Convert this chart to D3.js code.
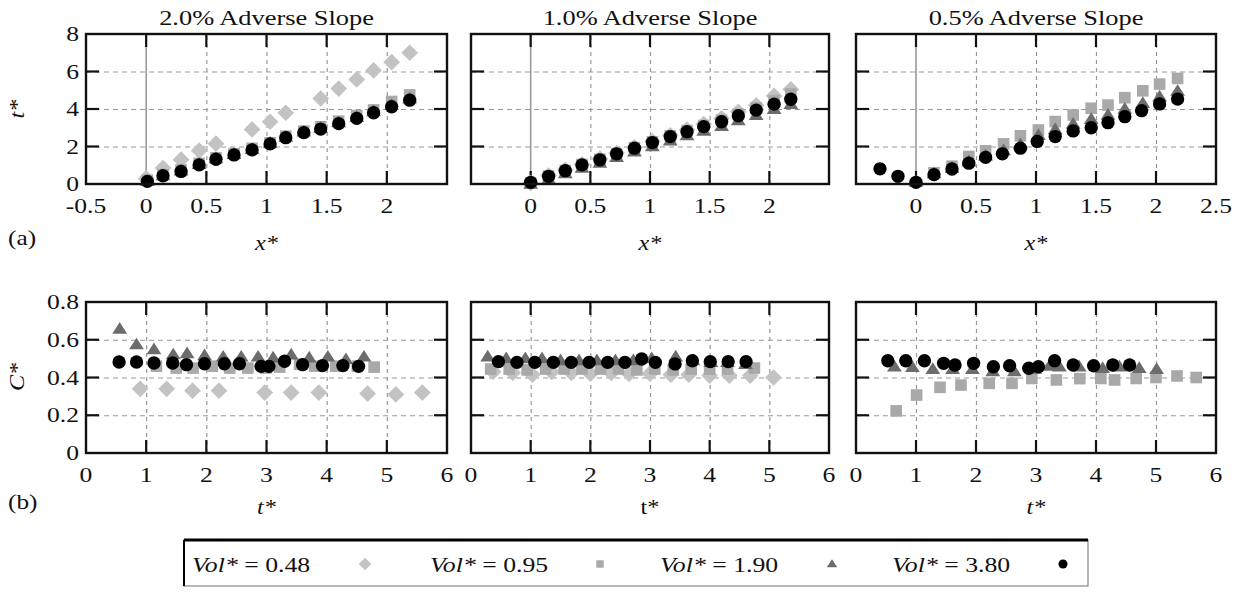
<!DOCTYPE html>
<html><head><meta charset="utf-8">
<script src="https://cdn.jsdelivr.net/npm/d3@7"></script>
<style>html,body{margin:0;padding:0;background:#fff;} svg{display:block;}</style>
</head><body>
<svg id="chart" width="1249" height="596"></svg>
<script>
// ---------------- DATA ----------------
const titles = ["2.0% Adverse Slope", "1.0% Adverse Slope", "0.5% Adverse Slope"];
const seriesNames = ["Vol* = 0.48", "Vol* = 0.95", "Vol* = 1.90", "Vol* = 3.80"];
const xTopTicks = [-0.5, 0, 0.5, 1, 1.5, 2, 2.5];
const yTopTicks = [0, 2, 4, 6, 8];
const xBotTicks = [0, 1, 2, 3, 4, 5, 6];
const yBotTicks = [0, 0.2, 0.4, 0.6, 0.8];
const xTopLabelTicks = [[-0.5, 0, 0.5, 1, 1.5, 2], [0, 0.5, 1, 1.5, 2], [0, 0.5, 1, 1.5, 2, 2.5]];

// (a) t* vs x*  --- 2.0% slope
const a20_d_x = [0.0, 0.14, 0.29, 0.44, 0.58, 0.88, 1.03, 1.16, 1.45, 1.60, 1.75, 1.89, 2.04, 2.19];
const a20_d_y = [0.3, 0.85, 1.3, 1.78, 2.15, 2.91, 3.32, 3.8, 4.56, 5.09, 5.58, 6.06, 6.5, 7.0];
const a20_x   = [0.01, 0.14, 0.29, 0.44, 0.58, 0.73, 0.88, 1.03, 1.16, 1.31, 1.45, 1.60, 1.75, 1.89, 2.04, 2.19];
const a20_s_y = [0.2, 0.5, 0.75, 1.1, 1.4, 1.62, 1.9, 2.2, 2.55, 2.82, 3.05, 3.35, 3.65, 3.95, 4.4, 4.75];
const a20_t_y = [0.15, 0.45, 0.7, 1.05, 1.35, 1.58, 1.85, 2.18, 2.5, 2.78, 2.98, 3.28, 3.56, 3.86, 4.2, 4.55];
const a20_c_y = [0.14, 0.44, 0.67, 1.02, 1.32, 1.55, 1.82, 2.14, 2.47, 2.74, 2.93, 3.22, 3.50, 3.80, 4.12, 4.47];
// 1.0% slope
const a10_x   = [0.0, 0.15, 0.29, 0.43, 0.58, 0.72, 0.87, 1.02, 1.17, 1.31, 1.45, 1.60, 1.74, 1.89, 2.04, 2.18];
const a10_d_y = [0.05, 0.45, 0.75, 1.05, 1.35, 1.65, 1.95, 2.28, 2.6, 2.9, 3.2, 3.5, 3.85, 4.2, 4.7, 5.05];
const a10_s_y = [0.05, 0.43, 0.72, 1.04, 1.32, 1.63, 1.94, 2.25, 2.57, 2.85, 3.12, 3.4, 3.72, 4.05, 4.45, 4.8];
const a10_t_y = [0.0, 0.25, 0.55, 0.85, 1.12, 1.42, 1.72, 2.0, 2.3, 2.58, 2.82, 3.08, 3.38, 3.66, 3.98, 4.25];
const a10_c_y = [0.09, 0.41, 0.71, 1.02, 1.29, 1.61, 1.91, 2.21, 2.53, 2.79, 3.06, 3.32, 3.64, 3.94, 4.26, 4.52];
// 0.5% slope
const a05_s_x = [0.15, 0.30, 0.44, 0.58, 0.73, 0.87, 1.02, 1.16, 1.31, 1.46, 1.60, 1.74, 1.89, 2.03, 2.18];
const a05_s_y = [0.6, 0.95, 1.47, 1.77, 2.14, 2.57, 2.88, 3.33, 3.68, 4.04, 4.21, 4.6, 4.97, 5.33, 5.63];
const a05_t_x = [0.0, 0.15, 0.30, 0.44, 0.58, 0.73, 0.87, 1.02, 1.16, 1.31, 1.46, 1.60, 1.74, 1.89, 2.03, 2.18];
const a05_t_y = [0.1, 0.55, 0.85, 1.2, 1.5, 1.78, 2.1, 2.6, 2.9, 3.2, 3.45, 3.68, 4.0, 4.3, 4.65, 4.95];
const a05_c_x = [-0.30, -0.15, 0.0, 0.15, 0.30, 0.44, 0.58, 0.72, 0.87, 1.01, 1.16, 1.31, 1.46, 1.60, 1.74, 1.88, 2.03, 2.18];
const a05_c_y = [0.81, 0.41, 0.09, 0.5, 0.8, 1.11, 1.42, 1.61, 1.91, 2.27, 2.53, 2.83, 3.0, 3.27, 3.59, 3.91, 4.27, 4.53];

// (b) C* vs t*  --- 2.0% slope
const b20_d_t = [0.90, 1.34, 1.77, 2.21, 2.97, 3.41, 3.87, 4.68, 5.15, 5.59];
const b20_d_c = [0.34, 0.34, 0.33, 0.33, 0.32, 0.32, 0.32, 0.315, 0.31, 0.32];
const b20_s_t = [1.17, 1.50, 1.78, 2.10, 2.39, 2.69, 2.99, 3.22, 3.55, 3.80, 4.15, 4.51, 4.79];
const b20_s_c = [0.46, 0.45, 0.45, 0.46, 0.45, 0.45, 0.45, 0.455, 0.47, 0.46, 0.46, 0.46, 0.455];
const b20_t_t = [0.56, 0.84, 1.13, 1.45, 1.68, 1.97, 2.28, 2.58, 2.86, 3.11, 3.41, 3.71, 4.02, 4.32, 4.62];
const b20_t_c = [0.657, 0.574, 0.548, 0.521, 0.527, 0.516, 0.509, 0.509, 0.509, 0.504, 0.52, 0.504, 0.509, 0.495, 0.509];
const b20_c_t = [0.55, 0.84, 1.13, 1.44, 1.67, 1.97, 2.30, 2.55, 2.91, 3.04, 3.30, 3.60, 3.93, 4.27, 4.53];
const b20_c_c = [0.482, 0.482, 0.477, 0.477, 0.468, 0.473, 0.473, 0.473, 0.459, 0.459, 0.486, 0.468, 0.463, 0.463, 0.459];
// 1.0% slope
const b10_d_t = [0.37, 0.70, 1.03, 1.35, 1.68, 2.00, 2.35, 2.65, 3.00, 3.35, 3.65, 4.00, 4.33, 4.68, 5.07];
const b10_d_c = [0.43, 0.425, 0.415, 0.43, 0.425, 0.42, 0.425, 0.42, 0.42, 0.415, 0.415, 0.41, 0.41, 0.41, 0.4];
const b10_s_t = [0.33, 0.64, 0.94, 1.25, 1.56, 1.86, 2.17, 2.47, 2.78, 3.08, 3.39, 3.69, 4.00, 4.30, 4.75];
const b10_s_c = [0.445, 0.445, 0.44, 0.445, 0.445, 0.445, 0.445, 0.445, 0.44, 0.445, 0.44, 0.445, 0.445, 0.445, 0.45];
const b10_t_t = [0.28, 0.59, 0.91, 1.19, 1.50, 1.81, 2.11, 2.42, 2.72, 3.03, 3.43, 3.72, 4.02, 4.30, 4.60];
const b10_t_c = [0.51, 0.5, 0.5, 0.5, 0.49, 0.49, 0.49, 0.49, 0.49, 0.5, 0.51, 0.49, 0.48, 0.48, 0.47];
const b10_c_t = [0.46, 0.77, 1.07, 1.38, 1.68, 1.98, 2.29, 2.58, 2.86, 3.09, 3.42, 3.71, 4.01, 4.31, 4.61];
const b10_c_c = [0.484, 0.48, 0.48, 0.48, 0.48, 0.48, 0.48, 0.48, 0.498, 0.48, 0.472, 0.489, 0.484, 0.484, 0.484];
// 0.5% slope
const b05_s_t = [0.67, 1.01, 1.40, 1.75, 2.22, 2.60, 2.93, 3.34, 3.73, 4.08, 4.31, 4.67, 5.00, 5.35, 5.67];
const b05_s_c = [0.223, 0.307, 0.348, 0.36, 0.369, 0.369, 0.395, 0.387, 0.394, 0.395, 0.387, 0.395, 0.4, 0.408, 0.4];
const b05_t_t = [0.64, 0.94, 1.28, 1.61, 1.94, 2.28, 2.64, 2.98, 3.22, 3.39, 3.72, 4.11, 4.39, 4.72, 5.01];
const b05_t_c = [0.457, 0.454, 0.443, 0.443, 0.443, 0.431, 0.431, 0.445, 0.46, 0.457, 0.457, 0.449, 0.457, 0.449, 0.443];
const b05_c_t = [0.53, 0.83, 1.14, 1.46, 1.65, 1.96, 2.29, 2.56, 2.88, 3.04, 3.31, 3.62, 3.96, 4.28, 4.56];
const b05_c_c = [0.489, 0.489, 0.489, 0.475, 0.466, 0.475, 0.457, 0.462, 0.449, 0.457, 0.489, 0.466, 0.462, 0.466, 0.466];

// ---------------- STYLE ----------------
const colors = ["#c3c3c3", "#a9a9a9", "#6c6c6c", "#000000"];
const FONT = "'Liberation Serif', 'Times New Roman', serif";
const SX = 1.22; // horizontal stretch of text in the original

const diamondType = { draw(ctx, size) { const r = Math.sqrt(size / 2); ctx.moveTo(0, -r); ctx.lineTo(r, 0); ctx.lineTo(0, r); ctx.lineTo(-r, 0); ctx.closePath(); } };
const triType = { draw(ctx, size) { const s = Math.sqrt(size); const h = s * 0.85; ctx.moveTo(0, -h * 0.6); ctx.lineTo(s / 2 + 0.5, h * 0.4); ctx.lineTo(-s / 2 - 0.5, h * 0.4); ctx.closePath(); } };
const shapes = [diamondType, d3.symbolSquare, triType, d3.symbolCircle];
const sizes = [140, 135, 190, 140];

const svg = d3.select("#chart");

function txt(g, x, y, s, opt = {}) {
  const t = g.append("text")
    .attr("transform", `translate(${x},${y}) ${opt.rot ? "rotate(" + opt.rot + ")" : ""} scale(${opt.sx || SX},1)`)
    .attr("font-family", FONT)
    .attr("font-size", opt.size || 20)
    .attr("text-anchor", opt.anchor || "middle")
    .attr("fill", "#111");
  if (opt.rich) {
    opt.rich.forEach(p => t.append("tspan").attr("font-style", p.i ? "italic" : "normal").text(p.t));
  } else {
    t.attr("font-style", opt.italic ? "italic" : "normal").text(s);
  }
  return t;
}

const colX = [[86, 447], [471, 829], [856, 1216]];
const rowTop = [34, 184], rowBot = [302, 453];

function panel(col, rowY, xDom, yDom, xTicks, yTicks, xLab, showY, series, zeroLine, yFmt) {
  const [x0, x1] = colX[col];
  const x = d3.scaleLinear().domain(xDom).range([x0, x1]);
  const y = d3.scaleLinear().domain(yDom).range([rowY[1], rowY[0]]);
  const g = svg.append("g");
  // grid
  const innerX = xTicks.filter(v => v > xDom[0] && v < xDom[1] && !(zeroLine && v === 0));
  const innerY = yTicks.filter(v => v > yDom[0] && v < yDom[1]);
  g.append("g").call(d3.axisBottom(x).tickValues(innerX).tickSize(-(rowY[1] - rowY[0])).tickFormat(""))
    .attr("transform", `translate(0,${rowY[1]})`)
    .call(a => { a.select(".domain").remove(); a.selectAll("line").attr("stroke", "#999").attr("stroke-width", 1.2).attr("stroke-dasharray", "4,4"); });
  g.append("g").call(d3.axisLeft(y).tickValues(innerY).tickSize(-(x1 - x0)).tickFormat(""))
    .attr("transform", `translate(${x0},0)`)
    .call(a => { a.select(".domain").remove(); a.selectAll("line").attr("stroke", "#999").attr("stroke-width", 1.2).attr("stroke-dasharray", "5,4"); });
  if (zeroLine) {
    g.append("line").attr("x1", x(0)).attr("x2", x(0)).attr("y1", rowY[0]).attr("y2", rowY[1])
      .attr("stroke", "#9a9a9a").attr("stroke-width", 1.6);
  }
  // ticks (inside, all sides)
  const TL = 13;
  const tk = g.append("g").attr("stroke", "#111").attr("stroke-width", 2.2);
  innerX.concat(zeroLine ? [0] : []).forEach(v => {
    tk.append("line").attr("x1", x(v)).attr("x2", x(v)).attr("y1", rowY[1]).attr("y2", rowY[1] - TL);
    tk.append("line").attr("x1", x(v)).attr("x2", x(v)).attr("y1", rowY[0]).attr("y2", rowY[0] + TL);
  });
  innerY.forEach(v => {
    tk.append("line").attr("x1", x0).attr("x2", x0 + TL).attr("y1", y(v)).attr("y2", y(v));
    tk.append("line").attr("x1", x1).attr("x2", x1 - TL).attr("y1", y(v)).attr("y2", y(v));
  });
  // markers
  series.forEach((s, i) => {
    if (!s) return;
    const pts = s[0].map((v, j) => [v, s[1][j]]);
    g.append("g").selectAll("path").data(pts).join("path")
      .attr("transform", d => `translate(${x(d[0])},${y(d[1])})`)
      .attr("d", d3.symbol().type(shapes[i]).size(sizes[i]))
      .attr("fill", colors[i]);
  });
  // frame
  g.append("rect").attr("x", x0).attr("y", rowY[0]).attr("width", x1 - x0).attr("height", rowY[1] - rowY[0])
    .attr("fill", "none").attr("stroke", "#111").attr("stroke-width", 2.4);
  // tick labels
  xLab.forEach(v => txt(g, x(v), rowY[1] + 29, String(v), { size: 21 }));
  if (showY) yTicks.forEach(v => txt(g, x0 - 7, y(v) + 7, yFmt(v), { anchor: "end", size: 21 }));
  return g;
}

const fmtTop = d3.format("d");
const fmtBot = v => v === 0 ? "0" : d3.format(".1f")(v);

// top row
panel(0, rowTop, [-0.5, 2.5], [0, 8], xTopTicks, yTopTicks, xTopLabelTicks[0], true,
  [[a20_d_x, a20_d_y], [a20_x, a20_s_y], [a20_x, a20_t_y], [a20_x, a20_c_y]], true, fmtTop);
panel(1, rowTop, [-0.5, 2.5], [0, 8], xTopTicks, yTopTicks, xTopLabelTicks[1], false,
  [[a10_x, a10_d_y], [a10_x, a10_s_y], [a10_x, a10_t_y], [a10_x, a10_c_y]], true, fmtTop);
panel(2, rowTop, [-0.5, 2.5], [0, 8], xTopTicks, yTopTicks, xTopLabelTicks[2], false,
  [null, [a05_s_x, a05_s_y], [a05_t_x, a05_t_y], [a05_c_x, a05_c_y]], true, fmtTop);
// bottom row
panel(0, rowBot, [0, 6], [0, 0.8], xBotTicks, yBotTicks, xBotTicks, true,
  [[b20_d_t, b20_d_c], [b20_s_t, b20_s_c], [b20_t_t, b20_t_c], [b20_c_t, b20_c_c]], false, fmtBot);
panel(1, rowBot, [0, 6], [0, 0.8], xBotTicks, yBotTicks, xBotTicks, false,
  [[b10_d_t, b10_d_c], [b10_s_t, b10_s_c], [b10_t_t, b10_t_c], [b10_c_t, b10_c_c]], false, fmtBot);
panel(2, rowBot, [0, 6], [0, 0.8], xBotTicks, yBotTicks, xBotTicks, false,
  [null, [b05_s_t, b05_s_c], [b05_t_t, b05_t_c], [b05_c_t, b05_c_c]], false, fmtBot);

// titles
titles.forEach((t, i) => txt(svg, (colX[i][0] + colX[i][1]) / 2, 25, t, { size: 22, sx: 1.2 }));
// axis labels
colX.forEach((c, i) => {
  const cx = (c[0] + c[1]) / 2;
  txt(svg, cx, 250, "x*", { size: 22, italic: true, sx: 1.1 });
  txt(svg, cx, 514, "t*", { size: 22, italic: i !== 1, sx: 1.1 });
});
txt(svg, 24, 109, "t*", { size: 22, italic: true, rot: -90, sx: 1.1 });
txt(svg, 24, 377, "C*", { size: 22, italic: true, rot: -90, sx: 1.1 });
txt(svg, 8, 245, "(a)", { size: 22, anchor: "start", sx: 1.15 });
txt(svg, 8, 509, "(b)", { size: 22, anchor: "start", sx: 1.15 });

// legend
const lg = svg.append("g");
lg.append("rect").attr("x", 184).attr("y", 540).attr("width", 904).attr("height", 46)
  .attr("fill", "#fff").attr("stroke", "#888").attr("stroke-width", 1.2);
lg.append("line").attr("x1", 184).attr("x2", 1088).attr("y1", 540).attr("y2", 540).attr("stroke", "#000").attr("stroke-width", 3);
lg.append("line").attr("x1", 184).attr("x2", 184).attr("y1", 540).attr("y2", 586).attr("stroke", "#000").attr("stroke-width", 2);
const legTextX = [192, 430, 660, 892];
const legMarkX = [365, 600, 832, 1063];
const legSizes = [80, 55, 90, 65];
seriesNames.forEach((n, i) => {
  const val = n.split("Vol*")[1];
  txt(lg, legTextX[i], 572, null, { size: 22, anchor: "start", sx: 1.17, rich: [{ t: "Vol*", i: true }, { t: val, i: false }] });
  lg.append("path").attr("transform", `translate(${legMarkX[i]},564)`)
    .attr("d", d3.symbol().type(shapes[i]).size(legSizes[i])).attr("fill", colors[i]);
});
</script>
</body></html>
